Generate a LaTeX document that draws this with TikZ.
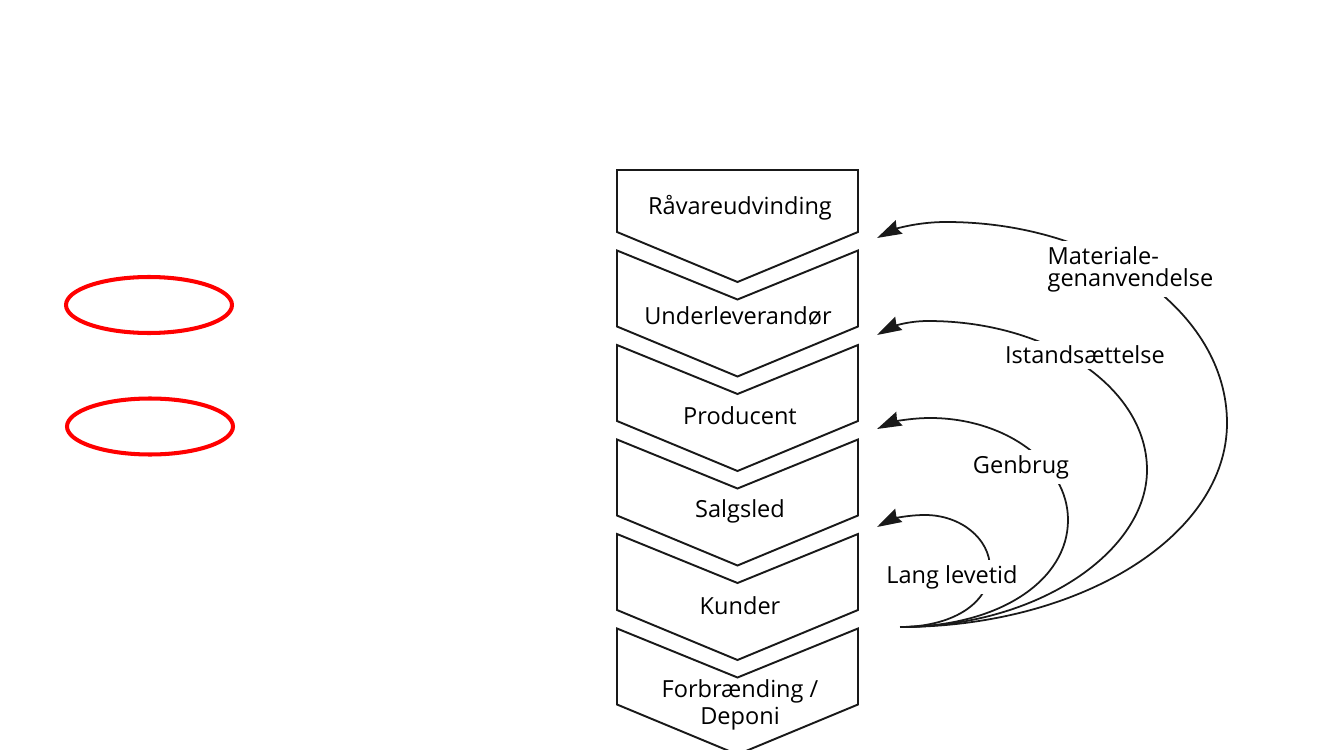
\documentclass[tikz,border=0pt]{standalone}
\usepackage{fontspec}
\setmainfont{Open Sans}
\usetikzlibrary{arrows.meta,shapes.geometric}
\begin{document}
\begin{tikzpicture}[x=0.02cm,y=-0.02cm,
  chev/.style={draw=black!90, line width=1.1pt, line join=miter, fill=white},
  lbl/.style={font=\fontsize{13.4}{12.6}\selectfont, text=black, inner sep=0pt},
  arclbl/.style={lbl, fill=white, inner sep=3pt},
  loop/.style={line width=1pt, draw=black!90, -{Stealth[length=14pt,width=8.5pt,inset=1.5pt]}},
  ring/.style={draw=red, line width=2.3pt, ellipse, minimum width=3.32cm, minimum height=1.12cm, inner sep=0pt}]
\useasboundingbox (0,0) rectangle (1333,750);

% red ellipses
\node[ring] (r1) at (149,305) {};
\node[ring] (r2) at (150,426.5) {};

% chevron stack
\draw[chev] (617,170) -- (858,170) -- (858,232) -- (737.5,282) -- (617,232) -- cycle;
\foreach \i in {1,...,5}{
  \pgfmathsetmacro{\b}{232+94.5*\i}
  \pgfmathsetmacro{\t}{\b-76}
  \draw[chev] (617,\t) -- (737.5,\t+49) -- (858,\t) -- (858,\b) -- (737.5,\b+50) -- (617,\b) -- cycle;
}

\node[lbl] (s1) at (740,208) {Råvareudvinding};
\node[lbl] (s2) at (738,316) {Underleverandør};
\node[lbl] (s3) at (740,416) {Producent};
\node[lbl] (s4) at (740,511) {Salgsled};
\node[lbl] (s5) at (740,606) {Kunder};
\node[lbl, align=center] (s6) at (740,705) {Forbrænding /\\[1.2pt]Deponi};

% loops
\coordinate (src) at (900,627);
\coordinate (tM) at (877,238);
\coordinate (tI) at (877,335);
\coordinate (tG) at (877,429);
\coordinate (tL) at (877,527);

\draw[loop] (src) .. controls (1080,627) and (1227,536) .. (1227,423)
  .. controls (1227,312) and (1101,222) .. (946,222)
  .. controls (915,222) and (893,230) .. (tM);
\draw[loop] (src) .. controls (1040,627) and (1147,550) .. (1147,470)
  .. controls (1147,388) and (1049,321) .. (928,321)
  .. controls (905,321) and (890,328) .. (tI);
\draw[loop] (src) .. controls (1000,627) and (1068,580) .. (1068,520)
  .. controls (1068,464) and (1006,418) .. (930,418)
  .. controls (908,418) and (890,423) .. (tG);
\draw[loop] (src) .. controls (950,627) and (990,605) .. (990,568)
  .. controls (990,539) and (961,515) .. (925,515)
  .. controls (905,515) and (890,520) .. (tL);

\node[arclbl, align=left, anchor=west] (lM) at (1042,269) {Materiale-\\genanvendelse};
\node[arclbl] (lI) at (1085,355) {Istandsættelse};
\node[arclbl] (lG) at (1021,467) {Genbrug};
\node[arclbl] (lL) at (952,577) {Lang levetid};
\end{tikzpicture}
\end{document}
